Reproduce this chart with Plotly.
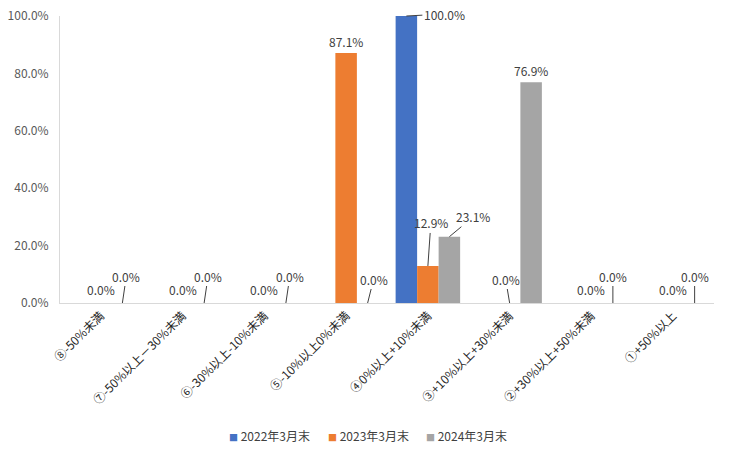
import plotly.graph_objects as go

categories = ["⑧-50%未満", "⑦-50%以上－30%未満", "⑥-30%以上-10%未満", "⑤-10%以上0%未満",
              "④0%以上+10%未満", "③+10%以上+30%未満", "②+30%以上+50%未満", "①+50%以上"]
series_names = ["2022年3月末", "2023年3月末", "2024年3月末"]
v2022 = [0.0, 0.0, 0.0, 0.0, 1.000, 0.0, 0.0, 0.0]
v2023 = [0.0, 0.0, 0.0, 0.871, 0.129, 0.0, 0.0, 0.0]
v2024 = [0.0, 0.0, 0.0, 0.0, 0.231, 0.769, 0.0, 0.0]
values = [v2022, v2023, v2024]
colors = ["#4472C4", "#ED7D31", "#A5A5A5"]

BARGAP = 0.211
bw = (1 - BARGAP) / 3  # bar width in category units

# label placement: (series, category) -> (dx, dy, leader)
label_style = {
    (0, 4): (38, -2, True),
    (1, 0): (0, -14, False), (1, 1): (0, -14, False), (1, 2): (0, -14, False),
    (1, 3): (0, -12, False), (1, 4): (3, -43, True), (1, 5): (-4, -24, True),
    (1, 6): (0, -14, False), (1, 7): (0, -14, False),
    (2, 0): (4, -27, True), (2, 1): (4, -27, True), (2, 2): (4, -27, True),
    (2, 3): (6, -24, True), (2, 4): (24, -20, True), (2, 5): (0, -12, False),
    (2, 6): (0, -27, True), (2, 7): (0, -27, True),
}
legend_x = [0.255, 0.406, 0.556]  # paper positions of legend entries

fig = go.Figure()
for s, (name, vals, col) in enumerate(zip(series_names, values, colors)):
    fig.add_trace(go.Bar(x=categories, y=vals, name=name, showlegend=False,
                         marker=dict(color=col, line=dict(width=0))))

annotations = []
for (s, c), (dx, dy, leader) in label_style.items():
    xpos = c + (s - 1) * bw
    yv = values[s][c]
    txt = f"{yv*100:.1f}%"
    if leader:
        annotations.append(dict(x=xpos, y=yv, xref="x", yref="y", text=txt, showarrow=True,
                                arrowhead=0, arrowwidth=1, arrowcolor="#404040", ax=dx, ay=dy,
                                font=dict(size=12, color="#404040")))
    else:
        annotations.append(dict(x=xpos, y=yv, xref="x", yref="y", text=txt, showarrow=False,
                                xshift=dx, yshift=-dy, font=dict(size=12, color="#404040")))

for name, col, lx in zip(series_names, colors, legend_x):
    annotations.append(dict(x=lx, y=-0.463, xref="paper", yref="paper", xanchor="left",
                            yanchor="middle", showarrow=False,
                            text=f"<span style='color:{col};font-size:9px'>■</span> {name}",
                            font=dict(size=12, color="#404040")))

fig.update_layout(
    width=746, height=458,
    margin=dict(l=60, r=32, t=16, b=155, autoexpand=False),
    paper_bgcolor="white", plot_bgcolor="white",
    font=dict(family="Noto Sans CJK JP", size=12, color="#404040"),
    barmode="group", bargap=BARGAP, bargroupgap=0,
    annotations=annotations,
    showlegend=False,
    xaxis=dict(showline=True, linecolor="#D9D9D9", linewidth=1, tickangle=-45, showgrid=False,
               ticks="", automargin=False, tickfont=dict(size=12, color="#262626")),
    yaxis=dict(range=[0, 1], dtick=0.2, tickformat=".1%", showgrid=False, zeroline=False,
               showline=True, linecolor="#D9D9D9", linewidth=1, ticks="", automargin=False,
               ticklabelstandoff=8, tickfont=dict(size=12, color="#595959")),
)

fig.write_html("out.html")
